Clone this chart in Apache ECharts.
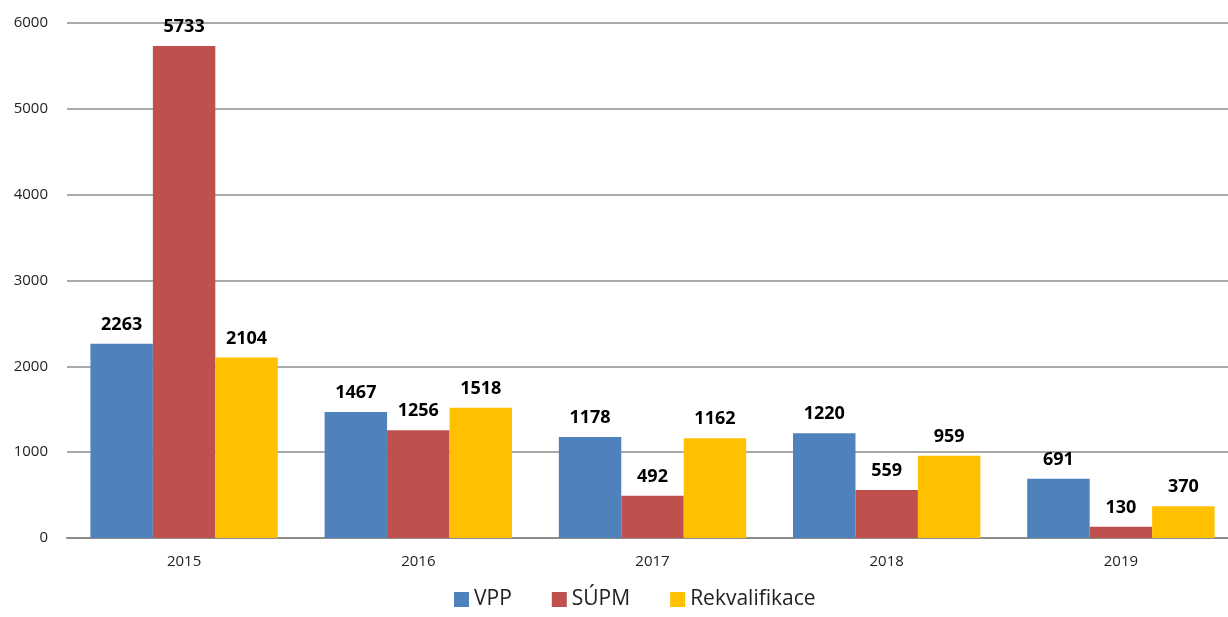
<!DOCTYPE html>
<html>
<head>
<meta charset="utf-8">
<script src="https://cdn.jsdelivr.net/npm/echarts@6/dist/echarts.min.js"></script>
<style>
  html, body { margin: 0; padding: 0; background: #fff; }
  #chart { width: 1228px; height: 617px; }
</style>
</head>
<body>
<div id="chart"></div>
<script>
const years = ['2015', '2016', '2017', '2018', '2019'];
const vpp = [2263, 1467, 1178, 1220, 691];
const supm = [5733, 1256, 492, 559, 130];
const rekval = [2104, 1518, 1162, 959, 370];

const font = '"Open Sans", "DejaVu Sans", sans-serif';

const label = {
  show: true,
  position: 'top',
  distance: 10,
  color: '#000',
  fontWeight: 'bold',
  fontSize: 18,
  fontFamily: font
};

const chart = echarts.init(document.getElementById('chart'));
chart.setOption({
  animation: false,
  textStyle: { fontFamily: font },
  grid: { left: 67, width: 1171, top: 23, bottom: 79, outerBoundsMode: 'none' },
  legend: {
    left: 449,
    bottom: 2,
    itemWidth: 15,
    itemHeight: 15,
    itemGap: 40,
    icon: 'rect',
    textStyle: { fontSize: 21, color: '#222', fontFamily: font },
    data: ['VPP', 'SÚPM', 'Rekvalifikace']
  },
  xAxis: {
    type: 'category',
    data: years,
    axisTick: { show: false },
    axisLine: { lineStyle: { color: '#8c8c8c', width: 2 } },
    axisLabel: { color: '#222', fontSize: 15, margin: 16 }
  },
  yAxis: {
    type: 'value',
    min: 0,
    max: 6000,
    interval: 1000,
    axisLine: { show: false },
    axisTick: { show: false },
    axisLabel: { color: '#222', fontSize: 15, margin: 19, formatter: v => String(v) },
    splitLine: { lineStyle: { color: '#8c8c8c', width: 1.5 } }
  },
  series: [
    { name: 'VPP', type: 'bar', data: vpp, barGap: 0, barCategoryGap: '20%', itemStyle: { color: '#4f81bd' }, label: label },
    { name: 'SÚPM', type: 'bar', data: supm, itemStyle: { color: '#c0504d' }, label: label },
    { name: 'Rekvalifikace', type: 'bar', data: rekval, itemStyle: { color: '#ffc000' }, label: label }
  ]
});
</script>
</body>
</html>
